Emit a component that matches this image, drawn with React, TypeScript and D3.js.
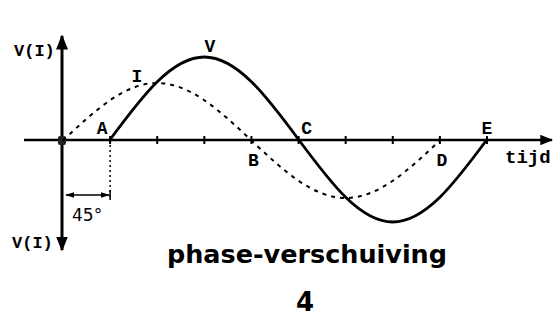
import React from "react";
import * as d3 from "d3";

// phase angle (degrees) sampled at every 45° tick
const currentDeg = [0, 45, 90, 135, 180, 225, 270, 315, 360];
const currentVal = [0, 0.7, 1, 0.7, 0, -0.7, -1, -0.7, 0];
const voltageDeg = [45, 90, 135, 180, 225, 270, 315, 360, 405];
const voltageVal = [0, 0.7, 1, 0.7, 0, -0.7, -1, -0.7, 0];
const tickDeg = [45, 90, 135, 180, 225, 270, 315, 360, 405];
const pointLabels = [
  { t: "A", deg: 45, dx: -8, dy: -6 },
  { t: "B", deg: 180, dx: 2, dy: 26 },
  { t: "C", deg: 225, dx: 8, dy: -6 },
  { t: "D", deg: 360, dx: 2, dy: 26 },
  { t: "E", deg: 405, dx: 0, dy: -6 },
];

export default function App() {
  const W = 560, H = 335;
  const x = d3.scaleLinear().domain([0, 405]).range([63, 487]);
  const y0 = 140;
  const yV = d3.scaleLinear().domain([-1, 1]).range([y0 + 82, y0 - 83]);
  const yI = d3.scaleLinear().domain([-1, 1]).range([y0 + 58, y0 - 57]);
  const lineI = d3.line<number>().x((_, i) => x(currentDeg[i])).y((d) => yI(d)).curve(d3.curveNatural);
  const lineV = d3.line<number>().x((_, i) => x(voltageDeg[i])).y((d) => yV(d)).curve(d3.curveNatural);
  const font = "'DejaVu Sans', sans-serif";
  const mono = "'Liberation Mono', 'DejaVu Sans Mono', monospace";
  return (
    <svg width={W} height={H} style={{ position: "absolute", left: 0, top: 0, background: "#fff" }}>
      <defs>
        <marker id="ah" viewBox="0 0 10 10" refX="9" refY="5" markerWidth="5" markerHeight="5" orient="auto-start-reverse">
          <path d="M0,1 L10,5 L0,9 Z" fill="#000" />
        </marker>
        <marker id="sa" viewBox="0 0 10 10" refX="9" refY="5" markerWidth="6" markerHeight="6" orient="auto-start-reverse">
          <path d="M0,2 L10,5 L0,8 Z" fill="#000" />
        </marker>
      </defs>
      {/* axes */}
      <line x1={24} y1={y0} x2={552} y2={y0} stroke="#000" strokeWidth={2.6} markerEnd="url(#ah)" />
      <line x1={62} y1={y0} x2={62} y2={36} stroke="#000" strokeWidth={3} markerEnd="url(#ah)" />
      <line x1={62} y1={y0} x2={62} y2={250} stroke="#000" strokeWidth={3} markerEnd="url(#ah)" />
      {tickDeg.map((d) => (
        <line key={d} x1={x(d)} x2={x(d)} y1={y0 - 4} y2={y0 + 4} stroke="#000" strokeWidth={2} />
      ))}
      <rect x={58} y={136} width={8} height={9} fill="#222" rx={2} />
      {/* curves */}
      <path d={lineI(currentVal) ?? ""} fill="none" stroke="#000" strokeWidth={2} strokeDasharray="4,5" />
      <path d={lineV(voltageVal) ?? ""} fill="none" stroke="#000" strokeWidth={2.8} />
      {/* 45 degree dimension */}
      <line x1={x(45)} x2={x(45)} y1={y0} y2={200} stroke="#000" strokeWidth={1.5} strokeDasharray="2,3" />
      <line x1={66} x2={x(45) - 1} y1={195} y2={195} stroke="#000" strokeWidth={1.5} markerStart="url(#sa)" markerEnd="url(#sa)" />
      <line x1={x(45)} x2={x(45)} y1={190} y2={200} stroke="#000" strokeWidth={1.5} />
      <text x={72} y={221} fontFamily={font} fontSize={17} fill="#000">45°</text>
      {/* labels */}
      <text x={14} y={56} fontFamily={mono} fontSize={17} fontWeight="bold" fill="#000">V(I)</text>
      <text x={12} y={248} fontFamily={mono} fontSize={17} fontWeight="bold" fill="#000">V(I)</text>
      <text x={210} y={52} fontFamily={mono} fontSize={18} fontWeight="bold" textAnchor="middle" fill="#000">V</text>
      <text x={137} y={82} fontFamily={mono} fontSize={18} fontWeight="bold" textAnchor="middle" fill="#000">I</text>
      {pointLabels.map((p) => (
        <text key={p.t} x={x(p.deg) + p.dx} y={y0 + p.dy} fontFamily={mono} fontSize={18} fontWeight="bold" textAnchor="middle" fill="#000">{p.t}</text>
      ))}
      <text x={505} y={163} fontFamily={mono} fontSize={19} fontWeight="bold" fill="#000">tijd</text>
      <text x={167} y={263} fontFamily={font} fontSize={24} fontWeight="bold" textLength={280} lengthAdjust="spacingAndGlyphs" fill="#000">phase-verschuiving</text>
      <text x={305} y={311} fontFamily={font} fontSize={26} fontWeight="bold" textAnchor="middle" fill="#000">4</text>
    </svg>
  );
}
